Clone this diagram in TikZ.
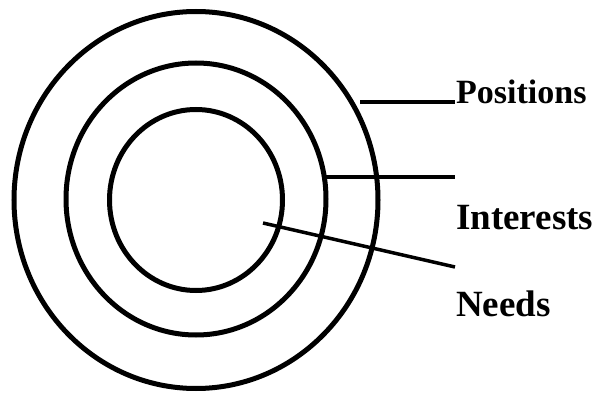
\documentclass[tikz,border=0pt]{standalone}
\usepackage{fontspec}
\setmainfont{Liberation Serif}
\usepackage{tikz}
\usetikzlibrary{positioning,shapes.geometric}

\begin{document}
\begin{tikzpicture}[
  x=1pt, y=-1pt,
  ring/.style={ellipse, draw=black, line width=5pt, inner sep=0pt},
  lead/.style={draw=black, line width=3.5pt},
  lbl/.style={anchor=base west, inner sep=0pt, font=\fontsize{37}{42}\selectfont\bfseries}
]
  \useasboundingbox (0,0) rectangle (595,396);
  \node[ring, minimum width=364pt, minimum height=377pt] (outer) at (196,200) {};
  \node[ring, minimum width=260pt, minimum height=272pt] (middle) at (196,199) {};
  \node[ring, minimum width=173pt, minimum height=181pt] (inner) at (196,200) {};
  \node[lbl, font=\fontsize{34}{40}\selectfont\bfseries] (positions) at (456,103) {Positions};
  \node[lbl] (interests) at (456,229) {Interests};
  \node[lbl] (needs) at (456,316) {Needs};
  \coordinate (p0) at (360,102);
  \coordinate (p1) at (455,102);
  \coordinate (i0) at (322,177);
  \coordinate (i1) at (455,177);
  \coordinate (n0) at (263,223);
  \coordinate (n1) at (455,267);
  \draw[lead] (p0) -- (p1);
  \draw[lead] (i0) -- (i1);
  \draw[lead] (n0) -- (n1);
\end{tikzpicture}
\end{document}
